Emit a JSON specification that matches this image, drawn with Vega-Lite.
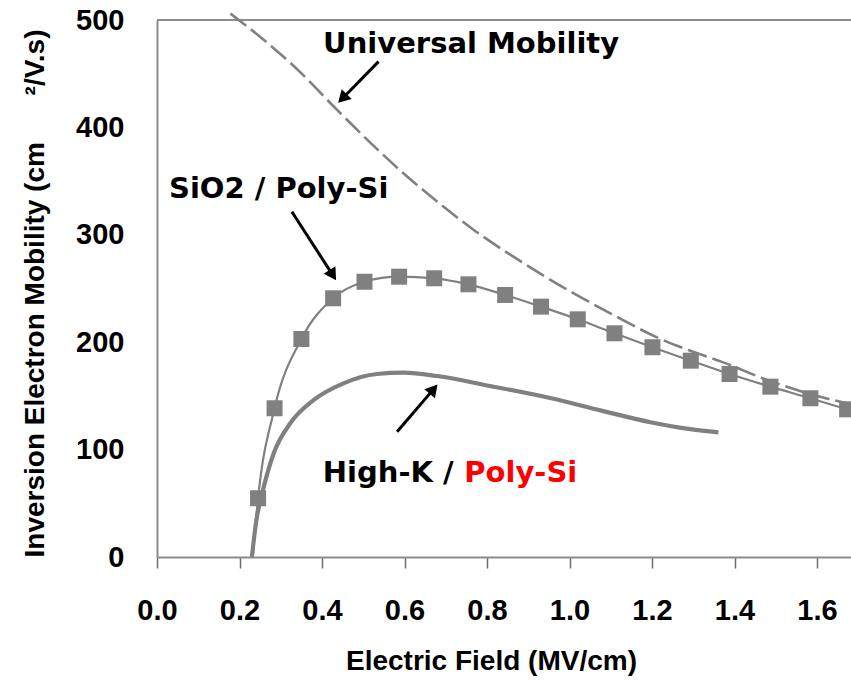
{
  "$schema": "https://vega.github.io/schema/vega-lite/v6.json",
  "width": 694,
  "height": 537,
  "autosize": {"type": "none"},
  "padding": {"left": 157, "top": 20, "right": 0, "bottom": 125},
  "background": "white",
  "config": {
    "view": {"stroke": null},
    "axis": {
      "grid": false,
      "domainColor": "#8c8c8c",
      "domainWidth": 2,
      "tickColor": "#6e6e6e",
      "tickWidth": 1.5,
      "labelFont": "Liberation Sans",
      "labelFontWeight": "bold",
      "labelFontSize": 29,
      "labelColor": "#000000",
      "labelFlush": false,
      "labelOverlap": false,
      "titleFont": "Liberation Sans",
      "titleFontWeight": "bold",
      "titleFontSize": 28,
      "titleColor": "#000000"
    }
  },
  "datasets": {
    "universal": [
      {"E": 0.178, "mu": 506},
      {"E": 0.251, "mu": 484.0},
      {"E": 0.347, "mu": 451.5},
      {"E": 0.436, "mu": 416.5},
      {"E": 0.533, "mu": 380.0},
      {"E": 0.598, "mu": 357.0},
      {"E": 0.679, "mu": 331.0},
      {"E": 0.768, "mu": 304.5},
      {"E": 0.864, "mu": 279.6},
      {"E": 0.994, "mu": 249.0},
      {"E": 1.099, "mu": 226.9},
      {"E": 1.212, "mu": 204.5},
      {"E": 1.293, "mu": 192.0},
      {"E": 1.374, "mu": 181.0},
      {"E": 1.471, "mu": 166.0},
      {"E": 1.568, "mu": 153.5},
      {"E": 1.720, "mu": 139.0}
    ],
    "sio2": [
      {"E": 0.232, "mu": 0, "sym": false},
      {"E": 0.245, "mu": 54.7, "sym": true},
      {"E": 0.285, "mu": 138.5, "sym": true},
      {"E": 0.350, "mu": 203.0, "sym": true},
      {"E": 0.427, "mu": 240.9, "sym": true},
      {"E": 0.503, "mu": 256.3, "sym": true},
      {"E": 0.587, "mu": 261.0, "sym": true},
      {"E": 0.672, "mu": 259.5, "sym": true},
      {"E": 0.755, "mu": 253.9, "sym": true},
      {"E": 0.844, "mu": 244.0, "sym": true},
      {"E": 0.931, "mu": 233.1, "sym": true},
      {"E": 1.020, "mu": 221.3, "sym": true},
      {"E": 1.109, "mu": 208.3, "sym": true},
      {"E": 1.201, "mu": 195.3, "sym": true},
      {"E": 1.294, "mu": 182.8, "sym": true},
      {"E": 1.388, "mu": 170.4, "sym": true},
      {"E": 1.487, "mu": 158.6, "sym": true},
      {"E": 1.584, "mu": 147.8, "sym": true},
      {"E": 1.673, "mu": 137.5, "sym": true},
      {"E": 1.720, "mu": 133.0, "sym": false}
    ],
    "highk": [
      {"E": 0.230, "mu": 0},
      {"E": 0.241, "mu": 34.4},
      {"E": 0.255, "mu": 59.3},
      {"E": 0.283, "mu": 96.6},
      {"E": 0.323, "mu": 124.5},
      {"E": 0.380, "mu": 146.2},
      {"E": 0.452, "mu": 161.7},
      {"E": 0.533, "mu": 170.4},
      {"E": 0.598, "mu": 171.6},
      {"E": 0.679, "mu": 168.5},
      {"E": 0.810, "mu": 159.0},
      {"E": 0.953, "mu": 148.0},
      {"E": 1.075, "mu": 136.5},
      {"E": 1.196, "mu": 125.5},
      {"E": 1.293, "mu": 119.0},
      {"E": 1.361, "mu": 116.0}
    ],
    "arrows": [
      {"id": "universal", "E": 0.537, "mu": 461.2, "E2": 0.4495, "mu2": 426.9},
      {"id": "sio2", "E": 0.327, "mu": 321.5, "E2": 0.4262, "mu2": 262.4},
      {"id": "highk", "E": 0.582, "mu": 116.7, "E2": 0.6705, "mu2": 156.3}
    ],
    "heads": [
      {"id": "universal", "E": 0.4495, "mu": 426.9},
      {"id": "sio2", "E": 0.4262, "mu": 262.4},
      {"id": "highk", "E": 0.6705, "mu": 156.3}
    ]
  },
  "encoding": {
    "x": {
      "field": "E",
      "type": "quantitative",
      "scale": {"domain": [0, 1.6824], "nice": false, "zero": false},
      "axis": {
        "values": [0, 0.2, 0.4, 0.6, 0.8, 1.0, 1.2, 1.4, 1.6],
        "format": ".1f",
        "tickSize": 11,
        "labelPadding": 28,
        "title": "Electric Field (MV/cm)",
        "titleX": 334,
        "titleY": 112,
        "titleAlign": "center",
        "titleBaseline": "alphabetic"
      }
    },
    "y": {
      "field": "mu",
      "type": "quantitative",
      "scale": {"domain": [0, 500], "nice": false},
      "axis": {
        "values": [0, 100, 200, 300, 400, 500],
        "format": "d",
        "ticks": false,
        "tickSize": 0,
        "labelPadding": 33,
        "title": "Inversion Electron Mobility (cm\u00a0\u00a0\u00a0\u00a0\u00a0\u00a0\u00b2/V.s)",
        "titleX": -113.5,
        "titleY": 537,
        "titleAngle": 270,
        "titleAlign": "left",
        "titleBaseline": "alphabetic"
      }
    }
  },
  "layer": [
    {
      "data": {"values": [{"E": 0, "mu": 500, "E2": 1.8}]},
      "mark": {"type": "rule", "color": "#8c8c8c", "strokeWidth": 2},
      "encoding": {"x2": {"field": "E2"}}
    },
    {
      "data": {"name": "universal"},
      "mark": {"type": "line", "interpolate": "monotone", "color": "#808080", "strokeWidth": 2.6, "strokeDash": [20, 6], "strokeCap": "butt"},
      "encoding": {}
    },
    {
      "data": {"name": "sio2"},
      "mark": {"type": "line", "interpolate": "monotone", "color": "#808080", "strokeWidth": 2.2},
      "encoding": {}
    },
    {
      "data": {"name": "highk"},
      "mark": {"type": "line", "interpolate": "monotone", "color": "#808080", "strokeWidth": 4.2},
      "encoding": {}
    },
    {
      "data": {"name": "sio2"},
      "transform": [{"filter": "datum.sym"}],
      "mark": {"type": "point", "shape": "square", "filled": true, "size": 256, "color": "#808080", "opacity": 1},
      "encoding": {}
    },
    {
      "data": {"name": "arrows"},
      "mark": {"type": "rule", "color": "#000000", "strokeWidth": 3, "strokeCap": "butt"},
      "encoding": {"x2": {"field": "E2"}, "y2": {"field": "mu2"}}
    },
    {
      "data": {"name": "heads"},
      "transform": [{"filter": "datum.id === 'universal'"}],
      "mark": {"type": "point", "shape": "triangle-up", "filled": true, "size": 196, "angle": 224.5, "color": "#000000", "opacity": 1},
      "encoding": {}
    },
    {
      "data": {"name": "heads"},
      "transform": [{"filter": "datum.id === 'sio2'"}],
      "mark": {"type": "point", "shape": "triangle-up", "filled": true, "size": 196, "angle": 147.3, "color": "#000000", "opacity": 1},
      "encoding": {}
    },
    {
      "data": {"name": "heads"},
      "transform": [{"filter": "datum.id === 'highk'"}],
      "mark": {"type": "point", "shape": "triangle-up", "filled": true, "size": 196, "angle": 40.7, "color": "#000000", "opacity": 1},
      "encoding": {}
    },
    {
      "data": {"values": [
        {"label": "Universal Mobility", "E": 0.7615, "mu": 469},
        {"label": "SiO2 / Poly-Si", "E": 0.2949, "mu": 333.8}
      ]},
      "mark": {"type": "text", "font": "DejaVu Sans", "fontWeight": "bold", "fontSize": 29, "align": "center", "baseline": "alphabetic", "color": "#000000"},
      "encoding": {"text": {"field": "label"}}
    },
    {
      "data": {"values": [{"label": "High-K /", "E": 0.719, "mu": 70.1}]},
      "mark": {"type": "text", "font": "DejaVu Sans", "fontWeight": "bold", "fontSize": 29, "align": "right", "baseline": "alphabetic", "color": "#000000"},
      "encoding": {"text": {"field": "label"}}
    },
    {
      "data": {"values": [{"label": "Poly-Si", "E": 0.745, "mu": 70.1}]},
      "mark": {"type": "text", "font": "DejaVu Sans", "fontWeight": "bold", "fontSize": 29, "align": "left", "baseline": "alphabetic", "color": "#ff0000"},
      "encoding": {"text": {"field": "label"}}
    }
  ]
}
